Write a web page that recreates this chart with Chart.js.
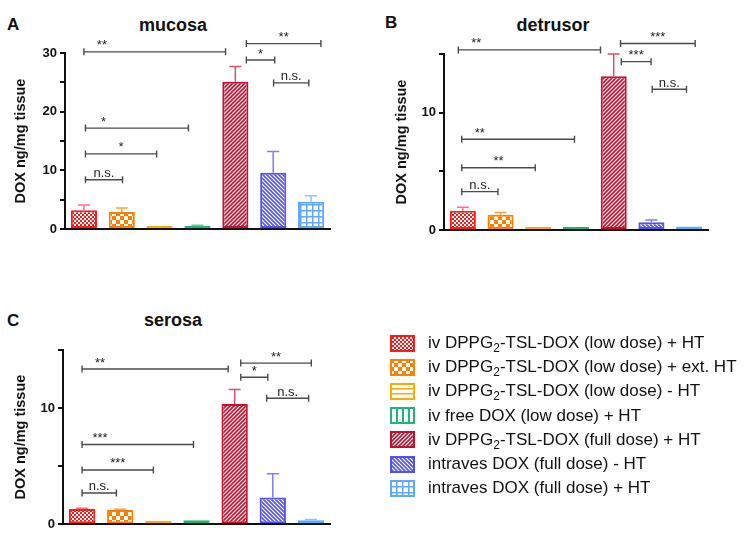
<!DOCTYPE html>
<html>
<head>
<meta charset="utf-8">
<script src="https://cdn.jsdelivr.net/npm/chart.js@4.4.1/dist/chart.umd.min.js"></script>
<style>
  body { margin: 0; background: #fff; font-family: "Liberation Sans", Arial, sans-serif; color: #111; }
  #page { position: relative; width: 753px; height: 535px; overflow: hidden; }
  .box { position: absolute; }
  .letter { position: absolute; font-weight: bold; font-size: 17px; line-height: 20px; }
  .title { position: absolute; font-weight: bold; font-size: 18px; line-height: 20px; width: 160px; text-align: center; }
  #legend { position: absolute; left: 390px; top: 331px; }
  .row { height: 24.2px; display: flex; align-items: center; font-size: 17px; white-space: nowrap; }
  .row canvas { margin-right: 13px; }
  sub { font-size: 12px; line-height: 0; }
</style>
</head>
<body>
<div id="page">
  <div class="letter" style="left:7px; top:15px">A</div>
  <div class="title" style="left:93px; top:15px">mucosa</div>
  <div class="box" style="left:0; top:0"><canvas id="chartA" width="345" height="250"></canvas></div>

  <div class="letter" style="left:385px; top:13px">B</div>
  <div class="title" style="left:473px; top:15px">detrusor</div>
  <div class="box" style="left:370px; top:0"><canvas id="chartB" width="345" height="250"></canvas></div>

  <div class="letter" style="left:7px; top:311px">C</div>
  <div class="title" style="left:93px; top:310px">serosa</div>
  <div class="box" style="left:0; top:300px"><canvas id="chartC" width="345" height="235"></canvas></div>

  <div id="legend"></div>
</div>
<script>
// groups (x categories), shown in the legend
const groups = [
  "iv DPPG<sub>2</sub>-TSL-DOX (low dose) + HT",
  "iv DPPG<sub>2</sub>-TSL-DOX (low dose) + ext. HT",
  "iv DPPG<sub>2</sub>-TSL-DOX (low dose) - HT",
  "iv free DOX (low dose) + HT",
  "iv DPPG<sub>2</sub>-TSL-DOX (full dose) + HT",
  "intraves DOX (full dose) - HT",
  "intraves DOX (full dose) + HT"
]

// mean and upper error (SEM) per group, DOX ng/mg tissue
const mucosaMeans = [3.2, 2.9, 0.2, 0.5, 25.1, 9.6, 4.65]
const mucosaErr = [0.9, 0.7, 0, 0.12, 2.6, 3.6, 1.0]
const detrusorMeans = [1.65, 1.3, 0.15, 0.2, 13.1, 0.65, 0.3]
const detrusorErr = [0.28, 0.2, 0, 0, 1.9, 0.2, 0]
const serosaMeans = [1.3, 1.22, 0.3, 0.35, 10.35, 2.3, 0.35]
const serosaErr = [0.07, 0.06, 0, 0, 1.25, 2.05, 0.06]

// significance brackets: [from group, to group, level, label]
const mucosaSig = [
  [0, 3.74, 30.2, "**"], [0.04, 2.76, 17.2, "*"], [0.04, 1.92, 12.8, "*"], [0.04, 1.02, 8.4, "n.s."],
  [4.29, 6.26, 31.6, "**"], [4.29, 5.04, 28.8, "*"], [5.01, 5.94, 24.9, "n.s."]
]
const detrusorSig = [
  [-0.12, 3.65, 15.35, "**"], [-0.03, 2.96, 7.73, "**"], [-0.03, 1.92, 5.31, "**"], [-0.03, 0.93, 3.27, "n.s."],
  [4.18, 6.16, 15.9, "***"], [4.2, 4.99, 14.35, "***"], [5.02, 5.93, 12.0, "n.s."]
]
const serosaSig = [
  [0, 3.83, 13.36, "**"], [0, 2.92, 6.86, "***"], [0, 1.87, 4.67, "***"], [0, 0.9, 2.69, "n.s."],
  [4.16, 6.01, 13.87, "**"], [4.16, 4.87, 12.66, "*"], [4.84, 5.94, 10.85, "n.s."]
]

const edgeColors = ["#ff1a1a", "#ff8000", "#ffaa00", "#1fb573", "#c8102e", "#5252f2", "#5fa8ff"]
const errColors = ["#ff7080", "#ffa040", "#ffc040", "#60d09a", "#d8506a", "#7d7dff", "#8cc4ff"]
const kinds = ["fineCheck", "check", "hlines", "vlines", "diagR", "diagL", "grid"]

function makeTile(kind, color) {
  const t = document.createElement("canvas")
  const g = t.getContext("2d")
  let s = 4
  if (kind == "check") s = 8
  if (kind == "hlines") s = 5
  if (kind == "vlines") s = 6
  if (kind == "grid") s = 6
  if (kind == "diagR" || kind == "diagL") s = 4
  t.width = s; t.height = s
  g.fillStyle = "#fff"
  g.fillRect(0, 0, s, s)
  g.fillStyle = color
  g.strokeStyle = color
  if (kind == "fineCheck" || kind == "check") {
    g.fillRect(0, 0, s / 2, s / 2)
    g.fillRect(s / 2, s / 2, s / 2, s / 2)
  } else if (kind == "hlines") {
    g.fillRect(0, 0, s, 1.5)
  } else if (kind == "vlines") {
    g.fillRect(0, 0, 2, s)
  } else if (kind == "grid") {
    g.fillRect(0, 0, s, 1.5)
    g.fillRect(0, 0, 1.5, s)
  } else {
    g.lineWidth = 1.6
    g.beginPath()
    if (kind == "diagR") {
      g.moveTo(-1, s + 1); g.lineTo(s + 1, -1)
      g.moveTo(-1, 1); g.lineTo(1, -1)
      g.moveTo(s - 1, s + 1); g.lineTo(s + 1, s - 1)
    } else {
      g.moveTo(-1, -1); g.lineTo(s + 1, s + 1)
      g.moveTo(s - 1, -1); g.lineTo(s + 1, 1)
      g.moveTo(-1, s - 1); g.lineTo(1, s + 1)
    }
    g.stroke()
  }
  return t
}
const tiles = kinds.map((k, i) => makeTile(k, edgeColors[i]))

const errorBars = errs => ({
  id: "errorBars",
  afterDatasetsDraw(chart) {
    const ctx = chart.ctx, y = chart.scales.y
    const vals = chart.data.datasets[0].data
    chart.getDatasetMeta(0).data.forEach((bar, i) => {
      if (!errs[i]) return
      const top = y.getPixelForValue(vals[i] + errs[i])
      ctx.save()
      ctx.strokeStyle = errColors[i]
      ctx.lineWidth = 1.5
      ctx.beginPath()
      ctx.moveTo(bar.x, bar.y)
      ctx.lineTo(bar.x, top)
      ctx.moveTo(bar.x - 6, top)
      ctx.lineTo(bar.x + 6, top)
      ctx.stroke()
      ctx.restore()
    })
  }
})

const sigBrackets = list => ({
  id: "sigBrackets",
  afterDraw(chart) {
    const ctx = chart.ctx, x = chart.scales.x, y = chart.scales.y
    ctx.save()
    ctx.strokeStyle = "#4a4a4a"
    ctx.fillStyle = "#222"
    ctx.lineWidth = 1.4
    ctx.font = "13px 'Liberation Sans', Arial, sans-serif"
    ctx.textAlign = "center"
    ctx.textBaseline = "alphabetic"
    list.forEach(([a, b, lvl, txt]) => {
      const xs = x.getPixelForValue(a), xe = x.getPixelForValue(b), yy = y.getPixelForValue(lvl)
      ctx.beginPath()
      ctx.moveTo(xs, yy); ctx.lineTo(xe, yy)
      ctx.moveTo(xs, yy - 3.5); ctx.lineTo(xs, yy + 3.5)
      ctx.moveTo(xe, yy - 3.5); ctx.lineTo(xe, yy + 3.5)
      ctx.stroke()
      const lx = (xe - xs) > 90 ? xs + 18 : (xs + xe) / 2
      ctx.fillText(txt, lx, yy - 2.5)
    })
    ctx.restore()
  }
})

function makeChart(id, means, errs, sig, yMax, pad, titlePad) {
  const canvas = document.getElementById(id)
  const ctx = canvas.getContext("2d")
  const fills = tiles.map(t => ctx.createPattern(t, "repeat"))
  return new Chart(canvas, {
    type: "bar",
    data: {
      labels: groups.map(g => g.replace(/<\/?sub>/g, "")),
      datasets: [{
        data: means,
        backgroundColor: fills,
        borderColor: edgeColors,
        borderWidth: 2,
        borderSkipped: false,
        minBarLength: 3,
        barPercentage: 0.69,
        categoryPercentage: 1
      }]
    },
    options: {
      responsive: false,
      animation: false,
      events: [],
      layout: { padding: { top: pad.top, right: pad.right, left: 0, bottom: 0 } },
      plugins: { legend: { display: false }, tooltip: { enabled: false } },
      scales: {
        x: {
          grid: { display: false },
          ticks: { display: false },
          border: { color: "#111", width: 2 },
          afterFit: s => { s.height = pad.bottom }
        },
        y: {
          min: 0,
          max: yMax,
          ticks: {
            stepSize: 5,
            callback: v => v % 10 === 0 ? v : "",
            font: { family: "'Liberation Sans', Arial, sans-serif", weight: "bold", size: 13 },
            color: "#111",
            padding: 3
          },
          grid: { drawOnChartArea: false, tickLength: 5, color: "#111", lineWidth: 2 },
          border: { color: "#111", width: 2 },
          title: {
            display: true,
            text: "DOX ng/mg tissue",
            font: { family: "'Liberation Sans', Arial, sans-serif", weight: "bold", size: 14.5 },
            color: "#111",
            padding: { top: titlePad, bottom: 0 }
          },
          afterFit: s => { s.width = pad.left }
        }
      }
    },
    plugins: [errorBars(errs), sigBrackets(sig)]
  })
}

makeChart("chartA", mucosaMeans, mucosaErr, mucosaSig, 30, { left: 65, top: 53, right: 15, bottom: 21 }, 12)
makeChart("chartB", detrusorMeans, detrusorErr, detrusorSig, 15, { left: 74, top: 54, right: 7, bottom: 20 }, 23)
makeChart("chartC", serosaMeans, serosaErr, serosaSig, 15, { left: 63, top: 50, right: 15, bottom: 10 }, 12)

// legend
const legend = document.getElementById("legend")
groups.forEach((g, i) => {
  const row = document.createElement("div")
  row.className = "row"
  const sw = document.createElement("canvas")
  sw.width = 25; sw.height = 17
  const c = sw.getContext("2d")
  c.fillStyle = c.createPattern(tiles[i], "repeat")
  c.fillRect(0, 0, 25, 17)
  c.strokeStyle = edgeColors[i]
  c.lineWidth = 2
  c.strokeRect(1, 1, 23, 15)
  row.appendChild(sw)
  const span = document.createElement("span")
  span.innerHTML = g
  row.appendChild(span)
  legend.appendChild(row)
})
</script>
</body>
</html>
